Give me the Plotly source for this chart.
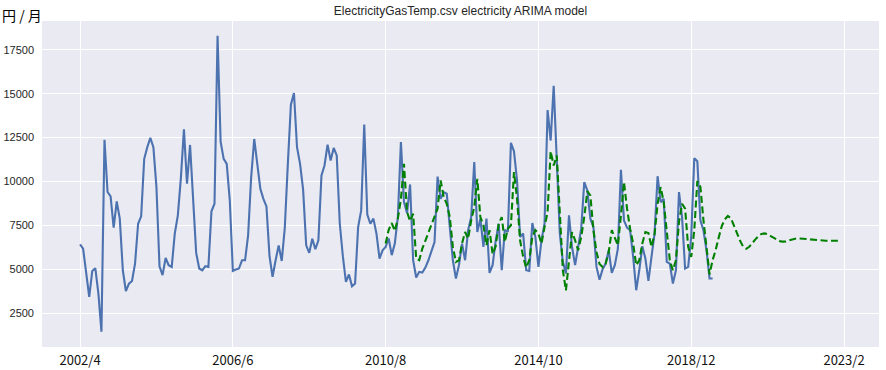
import plotly.graph_objects as go

# x positions are month indices counted from 2002/4
tick_idx = [0, 50, 100, 150, 200, 250]
tick_labels = ["2002/4", "2006/6", "2010/8", "2014/10", "2018/12", "2023/2"]
y_ticks = [2500, 5000, 7500, 10000, 12500, 15000, 17500]

electricity = [
    6420, 6175, 4800, 3430, 4900, 5060, 3620, 1440, 12370, 9400,
    9150, 7370, 8860, 7880, 4940, 3750, 4180, 4330, 5320, 7590,
    8010, 11290, 11950, 12480, 11950, 9680, 5170, 4660, 5640, 5230,
    5130, 7030, 8070, 10200, 12970, 9870, 12080, 9110, 5930, 5040,
    4940, 5170, 5130, 8300, 8730, 18300, 12270, 11290, 11000, 8920,
    4900, 4980, 5040, 5510, 5510, 6930, 10250, 12420, 11000, 9580,
    9010, 8580, 5740, 4570, 5510, 6360, 5470, 7350, 11000, 14370,
    15040, 11950, 11000, 9530, 6360, 5930, 6740, 6140, 6650, 10340,
    10910, 12100, 11190, 11910, 11480, 7590, 5740, 4280, 4700, 4030,
    4180, 7400, 8350, 13240, 8110, 7590, 7880, 7030, 5610, 6080,
    6270, 6750, 5800, 6460, 7970, 12240, 8820, 8200, 9830, 5510,
    4530, 4850, 4810, 5090, 5510, 6080, 6550, 10280, 9010, 9390,
    9300, 7400, 5510, 4470, 5230, 6460, 5510, 7220, 7970, 11100,
    7120, 7880, 6270, 7880, 4790, 5230, 6600, 7590, 4940, 7250,
    7120, 12200, 11720, 10060, 6840, 7030, 4940, 4900, 7630, 6840,
    5130, 6650, 7590, 14070, 12330, 15450, 10810, 7030, 5420, 4760,
    8070, 6270, 5230, 6170, 7310, 9960, 9490, 7880, 7400, 5130,
    4400, 5000, 5320, 6080, 4790, 5230, 6170, 10660, 7780, 7370,
    7220, 5700, 3800, 4940, 6310, 5610, 4340, 5700, 7030, 10300,
    8820, 9010, 5420, 5320, 4180, 4940, 9390, 7970, 5040, 5130,
    6840, 11320, 11150, 7780, 7220, 6080, 4470, 4470,
]

arima_start = 100
arima = [
    6460, 7250, 7630, 7180, 7880, 9000, 11000, 8260, 7750, 8160,
    5610, 5510, 6170, 6650, 7120, 7500, 7970, 8450, 10060, 9110,
    8730, 7970, 6270, 5420, 5510, 6460, 7120, 6740, 7780, 8540,
    10150, 7970, 7500, 6360, 7220, 5870, 6300, 7590, 7970, 6550,
    7310, 7500, 10530, 9010, 6650, 5700, 5090, 5510, 6840, 7220,
    7030, 6460, 7400, 8260, 11720, 10910, 11480, 7970, 4940, 3800,
    5320, 7120, 6650, 6080, 6840, 7970, 9450, 9200, 7220, 5980,
    5300, 5130, 5320, 5980, 7220, 6840, 6360, 8070, 9960, 8450,
    7310, 6460, 5230, 5510, 6460, 7120, 7060, 6270, 6990, 8730,
    9680, 8820, 7220, 5510, 4940, 5510, 7690, 8730, 8450, 6270,
    5700, 7220, 10020, 9700, 7800, 6200, 4700, 5520, 6090, 6810,
    7460, 7840, 8030, 7900, 7460, 7040, 6620, 6280, 6160, 6280,
    6510, 6700, 6890, 7010, 7040, 6990, 6890, 6780, 6660, 6600,
    6570, 6580, 6640, 6700, 6740, 6760, 6740, 6720, 6700, 6680,
    6660, 6640, 6620, 6620, 6620, 6620, 6620, 6620, 6620,
]

x_elec = list(range(len(electricity)))
x_arima = list(range(arima_start, arima_start + len(arima)))

fig = go.Figure()
fig.add_trace(go.Scatter(
    x=x_elec, y=electricity, mode="lines",
    line=dict(color="#4C72B0", width=2.1), name="electricity",
))
fig.add_trace(go.Scatter(
    x=x_arima, y=arima, mode="lines",
    line=dict(color="#008000", width=2.1, dash="7px,3.5px"), name="ARIMA",
))

fig.update_layout(
    width=886, height=370,
    margin=dict(l=42, r=7, t=21, b=23, autoexpand=False),
    paper_bgcolor="white",
    plot_bgcolor="#EAEAF2",
    showlegend=False,
    title=dict(
        text="ElectricityGasTemp.csv electricity ARIMA model",
        x=(42 + 879) / 2 / 886, xanchor="center",
        y=1 - 11 / 370, yanchor="middle",
        font=dict(family="Liberation Sans, Arial", size=12, color="#262626"),
    ),
    xaxis=dict(
        range=[-12.45, 261.45],
        tickvals=tick_idx, ticktext=tick_labels,
        showgrid=True, gridcolor="white", gridwidth=1.2,
        zeroline=False, showline=False, ticks="",
        automargin=False,
        ticklabelstandoff=4,
        tickfont=dict(family="Noto Sans CJK JP", size=13, color="#111111"),
    ),
    yaxis=dict(
        range=[568, 19142],
        tickvals=y_ticks, tickformat="d",
        showgrid=True, gridcolor="white", gridwidth=1.2,
        zeroline=False, showline=False, ticks="",
        automargin=False,
        ticklabelstandoff=7,
        tickfont=dict(family="Liberation Sans, Arial", size=11, color="#262626"),
    ),
    annotations=[dict(
        text="円 / 月", xref="paper", yref="paper",
        x=(0 - 42) / 837, y=(347 - 15) / 326,
        xanchor="left", yanchor="middle", showarrow=False,
        font=dict(family="Noto Sans CJK JP", size=14, color="#000000"),
    )],
)

fig.write_html(
    "out.html",
    config={"displayModeBar": False},
    post_script="document.body.style.margin='0px';document.body.style.overflow='hidden';",
)
